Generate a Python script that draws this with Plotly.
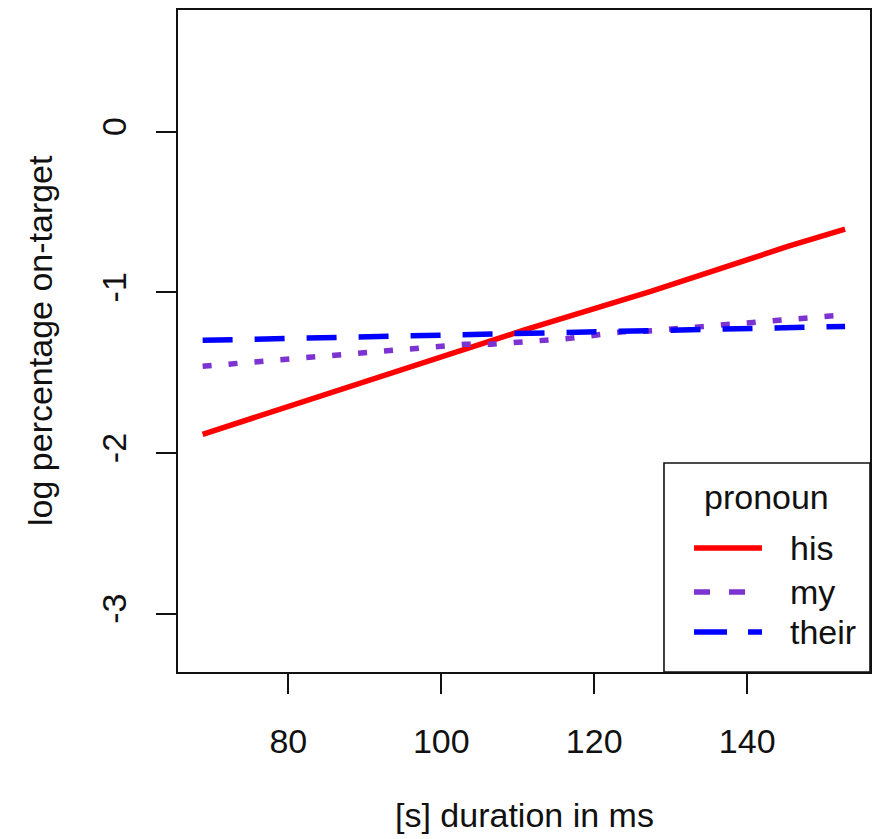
import plotly.graph_objects as go

# Predicted log percentage of on-target looks by [s] duration, one line per pronoun
pronouns = ["his", "my", "their"]

duration_his = [68.8, 76.0, 92.6, 110.9, 127.3, 145.2, 152.8]
logpct_his = [-1.883, -1.773, -1.520, -1.234, -0.996, -0.716, -0.607]

duration_my = [68.8, 76.3, 83.0, 89.9, 96.5, 103.1, 106.5, 109.9, 116.8,
               123.8, 127.1, 134.1, 140.6, 147.3, 152.8]
logpct_my = [-1.460, -1.431, -1.404, -1.379, -1.354, -1.323, -1.323, -1.311,
             -1.286, -1.245, -1.240, -1.213, -1.186, -1.157, -1.140]

duration_their = [68.8, 90.0, 110.0, 130.0, 152.8]
logpct_their = [-1.298, -1.278, -1.256, -1.240, -1.212]

x_ticks = [80, 100, 120, 140]
y_ticks = [-3, -2, -1, 0]

colors = ["#FF0000", "#7D32D2", "#0000FF"]
dashes = ["solid", "9px,17px", "30px,22px"]
legend_dashes = ["solid", "16px,19px", "33px,21px"]
series = [(duration_his, logpct_his), (duration_my, logpct_my),
          (duration_their, logpct_their)]

FONT = "Liberation Sans, Arial, sans-serif"
FS = 34
INK = "#111111"

fig = go.Figure()
for name, (xs, ys), col, dash in zip(pronouns, series, colors, dashes):
    fig.add_trace(go.Scatter(
        x=xs, y=ys, mode="lines", name=name,
        line=dict(color=col, width=5.5, dash=dash),
        showlegend=False,
    ))

axis_common = dict(
    showgrid=False, zeroline=False,
    showline=True, mirror=True, linecolor=INK, linewidth=1.6,
    ticks="outside", ticklen=20, tickwidth=1.5, tickcolor=INK,
    tickfont=dict(family=FONT, size=FS, color=INK),
)

fig.update_xaxes(range=[65.58, 156.06], tickvals=x_ticks,
                 ticktext=[str(v) for v in x_ticks],
                 ticklabelstandoff=18, **axis_common)
fig.update_yaxes(range=[-3.362, 0.757], tickvals=y_ticks,
                 ticktext=[str(v) for v in y_ticks], tickangle=-90,
                 ticklabelstandoff=17, **axis_common)

annotations = [
    dict(text="[s] duration in ms", xref="paper", yref="paper", x=0.5, y=0,
         xanchor="center", yanchor="middle", yshift=-143, showarrow=False,
         font=dict(family=FONT, size=FS, color=INK)),
    dict(text="log percentage on-target", xref="paper", yref="paper", x=0,
         y=0.5, xanchor="center", yanchor="middle", xshift=-138,
         textangle=-90, showarrow=False,
         font=dict(family=FONT, size=FS, color=INK)),
]

# Legend box in the lower-right corner of the plotting region
shapes = [dict(type="rect", xref="paper", yref="paper", x0=0.7023, x1=1.0,
               y0=0.0, y1=0.3157, line=dict(color=INK, width=1.6),
               fillcolor="white", layer="above")]
annotations.append(dict(text="pronoun", xref="paper", yref="paper",
                        x=0.8511, y=0.2644, xanchor="center",
                        yanchor="middle", showarrow=False,
                        font=dict(family=FONT, size=FS, color=INK)))
entry_y = [0.1873, 0.1208, 0.0604]
for name, col, dash, yy in zip(pronouns, colors, legend_dashes, entry_y):
    shapes.append(dict(type="line", xref="paper", yref="paper",
                       x0=0.7457, x1=0.8439, y0=yy, y1=yy, layer="above",
                       line=dict(color=col, width=5.5, dash=dash)))
    annotations.append(dict(text=name, xref="paper", yref="paper",
                            x=0.8815, y=yy, xanchor="left", yanchor="middle",
                            showarrow=False,
                            font=dict(family=FONT, size=FS, color=INK)))

fig.update_layout(
    width=874, height=839,
    margin=dict(l=178, r=4, t=10, b=167, autoexpand=False),
    paper_bgcolor="white", plot_bgcolor="white",
    shapes=shapes, annotations=annotations,
    showlegend=False,
)

fig.write_html("out.html")
